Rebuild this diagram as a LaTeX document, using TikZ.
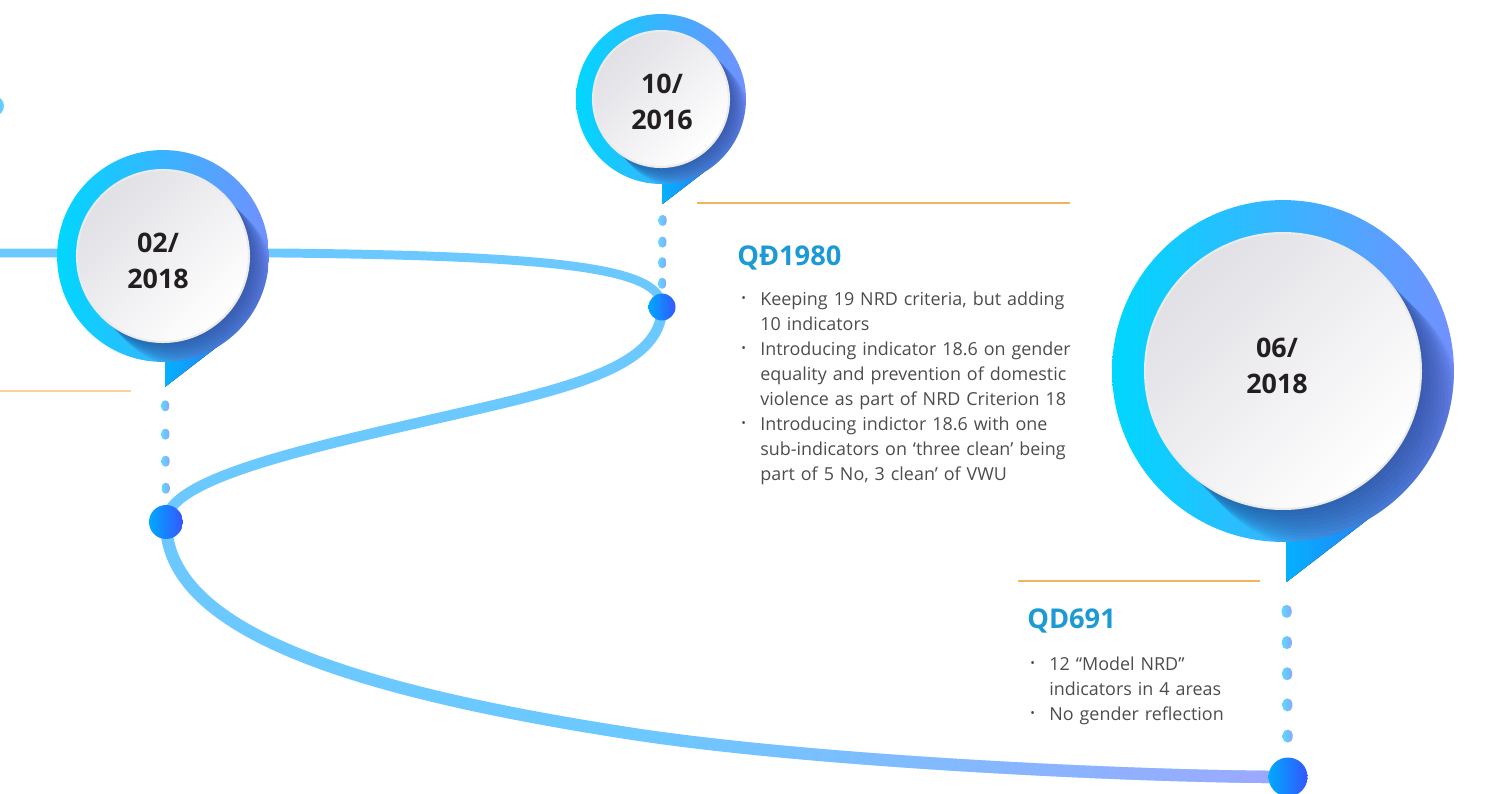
\documentclass[tikz,border=0pt]{standalone}
\usepackage{fontspec}
\setmainfont{Open Sans}
\usepackage{tikz}
\usetikzlibrary{calc,positioning,backgrounds,fadings,shapes}
\definecolor{roadblue}{HTML}{6CC9FF}
\definecolor{roadend}{HTML}{9DA8FF}
\definecolor{ringcyan}{HTML}{00D7FF}
\definecolor{ringblue}{HTML}{7290FF}
\definecolor{tailcyan}{HTML}{05B0FF}
\definecolor{tailblue}{HTML}{2B7AF6}
\definecolor{shadownavy}{HTML}{22357F}
\definecolor{discgray}{HTML}{E0E0E5}
\definecolor{stopcyan}{HTML}{00A9FF}
\definecolor{stopblue}{HTML}{3556FF}
\definecolor{pillcyan}{HTML}{5CD9FF}
\definecolor{pillblue}{HTML}{8BA5FF}
\definecolor{ruleorange}{HTML}{F0B55A}
\definecolor{titleblue}{HTML}{1C9AD6}
\definecolor{inkgray}{HTML}{4C4C4C}
\definecolor{datedark}{HTML}{231F20}
\tikzfading[name=fade in east, left color=transparent!100, right color=transparent!0]
\tikzstyle{road}=[
  draw=roadblue,
  line width=6pt,
]
\tikzstyle{ring}=[
  circle,
  inner sep=0pt,
  left color=ringcyan,
  right color=ringblue,
]
\tikzstyle{disc}=[
  circle,
  inner sep=0pt,
  draw=white!92!black,
  line width=1.2pt,
  top color=discgray,
  bottom color=white,
  shading angle=45,
]
\tikzstyle{date}=[
  align=center,
  text=datedark,
  font={\fontsize{15.3}{20.5}\selectfont\bfseries},
]
\tikzstyle{stop}=[
  circle,
  inner sep=0pt,
  left color=stopcyan,
  right color=stopblue,
]
\tikzstyle{pill}=[
  rectangle,
  rounded corners=0.08cm,
  inner sep=0pt,
  minimum width=0.16cm,
  minimum height=0.22cm,
  left color=pillcyan,
  right color=pillblue,
]
\tikzstyle{rule}=[
  draw=ruleorange,
  line width=0.7pt,
]
\tikzstyle{title}=[
  anchor=base west,
  inner sep=0pt,
  text=titleblue,
  font={\fontsize{15.5}{18}\selectfont\bfseries},
]
\tikzstyle{notes}=[
  anchor=base west,
  inner sep=0pt,
  text width=7.6cm,
  align=left,
  text=inkgray,
  font={\fontsize{10.2}{14.3}\selectfont},
]
\newcommand{\bulletline}[1]{\hangindent=0.4cm\hangafter=1\noindent
  \makebox[0.4cm][l]{\hspace{0.02cm}\raisebox{0.3ex}{\fontsize{7}{7}\selectfont\textbullet}}#1\par}
\newcommand{\datepin}[6]{%
  \coordinate (c#1) at (#2);
  \coordinate (tail#1) at ($(c#1)+(0.02*#3,1.235*#3)$);
  \fill[left color=tailcyan, right color=tailblue]
    (tail#1) -- ++(0,-0.6*#3) -- ($(tail#1)+(0.58*#3,-0.447*#3)$) -- cycle;
  \node[ring, minimum size=0.04cm*#3] (pin#1) at (c#1) {};
  \begin{scope}
    \clip (c#1) circle[radius=#3];
    \foreach \k in {1,...,12}
      \fill[shadownavy, opacity=0.065] ($(c#1)+(0.02*\k*#3,0.02*\k*#3)$) circle[radius=#4];
  \end{scope}
  \node[disc, minimum size=0.04cm*#4] (disc#1) at (c#1) {};
  \node[date] (date#1) at ($(c#1)+(#6)$) {#5};
}

\begin{document}
\begin{tikzpicture}[x=0.02cm, y=-0.02cm]
  \useasboundingbox (0,0) rectangle (1509,794);
  \clip (0,0) rectangle (1509,794);
  \datepin{A}{163,256}{106}{86}{02/\\2018}{-5,5}
  \datepin{B}{661,99}{85}{68}{10/\\2016}{1,3}
  \datepin{C}{1283,371}{171}{138}{06/\\2018}{-6,-5}
  \node[circle, inner sep=0pt, minimum size=0.4cm, fill=roadblue!90!cyan] (stopPrev) at (-6,106) {};
  \node[stop, minimum size=0.68cm] (stopA) at (166,522) {};
  \node[stop, minimum size=0.54cm] (stopB) at (662,307) {};
  \node[stop, minimum size=0.78cm] (stopC) at (1288,777) {};
  \path (tailA) -- (stopA.center)
    foreach \p [count=\i] in {0.14,0.35,0.55,0.75} {node[pill, pos=\p] (pillA-\i) {}};
  \path (tailB) -- (stopB.center)
    foreach \p [count=\i] in {0.16,0.37,0.57,0.77} {node[pill, pos=\p] (pillB-\i) {}};
  \path (tailC) -- (stopC.center)
    foreach \p [count=\i] in {0.15,0.31,0.47,0.63,0.79}
    {node[pill, minimum width=0.2cm, minimum height=0.26cm, rounded corners=0.1cm, pos=\p] (pillC-\i) {}};
  \draw[rule, draw=ruleorange!60] (0,391) -- (131,391);
  \draw[rule] (697,203) -- (1070,203);
  \draw[rule] (1018,581) -- (1260,581);
  \node[title] (titleB) at (737,265) {QĐ1980};
  \node[notes] (notesB) at (740,305) {%
    \bulletline{Keeping 19 NRD criteria, but adding\newline 10 indicators}%
    \bulletline{Introducing indicator 18.6 on gender\newline equality and prevention of domestic\newline violence as part of NRD Criterion 18}%
    \bulletline{Introducing indictor 18.6 with one\newline sub-indicators on ‘three clean’ being\newline part of 5 No, 3 clean’ of VWU}};
  \node[title] (titleC) at (1027,628) {QD691};
  \node[notes, text width=5cm] (notesC) at (1029,670) {%
    \bulletline{12 “Model NRD”\newline indicators in 4 areas}%
    \bulletline{No gender reflection}};
  \begin{pgfonlayer}{background}
    \coordinate (roadstart) at (-5,253);
    \coordinate (roadflat) at (280,253);
    \coordinate (roadmid) at (430,420);
    \coordinate (roadlow) at (640,735);
    \draw[road, line width=5.1pt] (roadstart) -- (roadflat)
      .. controls (560,256) and (662,268) .. (stopB.center);
    \draw[road] (stopB.center) .. controls (662,370) and (560,390) .. (roadmid)
      .. controls (300,450) and (166,480) .. (stopA.center);
    \draw[road, line width=7pt] (stopA.center) .. controls (166,625) and (330,688) .. (roadlow)
      .. controls (830,763) and (1150,777) .. (stopC.center);
    \draw[road, line width=7pt, draw=roadend, path fading=fade in east] (roadlow)
      .. controls (830,763) and (1150,777) .. (stopC.center);
  \end{pgfonlayer}
\end{tikzpicture}
\end{document}
